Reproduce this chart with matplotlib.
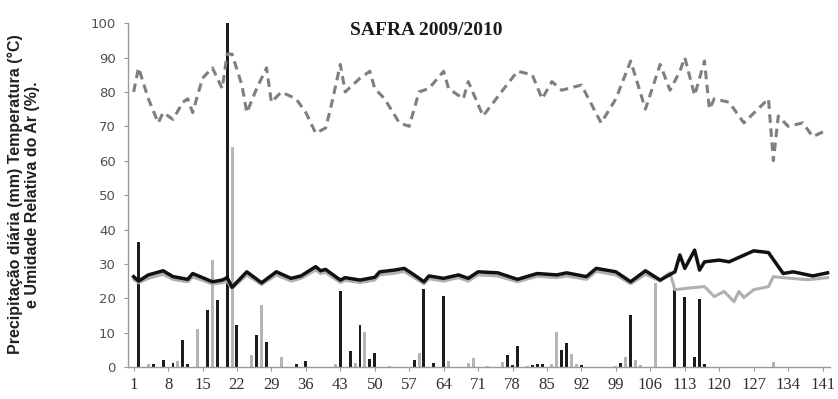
import numpy as np
import matplotlib
matplotlib.use("Agg")
import matplotlib.pyplot as plt

# relative humidity (%) - dashed grey line
ur_dias = [1, 2, 4, 6, 7, 9, 11, 12, 13, 15, 17, 18, 19, 20, 21, 23, 24, 26, 28, 29,
           31, 34, 36, 38, 40, 41, 43, 44, 47, 49, 50, 52, 55, 57, 59, 61, 64, 65, 68, 69,
           72, 76, 79, 82, 84, 86, 88, 92, 96, 99, 102, 105, 108, 110, 112, 113, 115, 117,
           118, 119, 122, 125, 130, 131, 132, 134, 137, 139, 142]
ur_vals = [80, 87, 78, 71, 74, 72, 77, 78, 74, 84, 87, 84, 81, 91, 91, 82, 74, 81, 87, 77,
           80, 78, 74, 68, 69.5, 75, 88, 80, 84, 86, 81, 78, 71, 70, 80, 81, 86, 81, 78, 83,
           73, 80.5, 86, 85, 78, 83, 80.5, 82, 71, 78, 89, 75, 88, 80.5, 86, 90, 79, 89,
           75, 78, 77, 71, 78, 60, 73, 70, 71, 67, 69]

# temperature, black line
tb_dias = [1, 2, 4, 7, 9, 12, 13, 17, 19, 20, 21, 24, 27, 30, 33, 35, 38, 39, 40, 43,
           44, 47, 50, 51, 54, 56, 58, 60, 61, 64, 67, 69, 71, 75, 79, 83, 87, 89, 93, 95,
           99, 102, 105, 108, 111, 112, 113, 115, 116, 117, 120, 122, 127, 130, 133, 135,
           139, 142]
tb_vals = [26.3, 25, 26.8, 28, 26.3, 25.5, 27.2, 24.8, 25.3, 26, 23.2, 27.7, 24.5, 27.7,
           25.8, 26.5, 29.2, 28, 28.4, 25.3, 26, 25.3, 26.1, 27.7, 28.2, 28.7, 26.8, 24.8,
           26.5, 25.8, 26.8, 25.8, 27.7, 27.4, 25.5, 27.2, 26.8, 27.4, 26.3, 28.7, 27.7,
           24.8, 28, 25.3, 27.7, 32.6, 28.7, 34, 28.2, 30.6, 31.1, 30.6, 33.8, 33.3, 27.2,
           27.7, 26.5, 27.4]

# temperature, grey line
tc_dias = [1, 2, 4, 7, 9, 12, 13, 17, 19, 20, 21, 24, 27, 30, 33, 35, 38, 39, 40, 43,
           44, 47, 50, 51, 54, 56, 58, 60, 61, 64, 67, 69, 71, 75, 79, 83, 87, 89, 93, 95,
           99, 102, 105, 108, 109, 110, 111, 114, 117, 119, 121, 123, 124, 125, 127, 130,
           131, 133, 138, 142]
tc_vals = [25.5, 24.5, 25.8, 27, 25.5, 24.8, 26.2, 24.2, 24.5, 25, 22.8, 26.8, 24, 26.8,
           25, 25.8, 28.2, 27.2, 27.5, 24.6, 25.2, 24.6, 25.3, 26.8, 27.3, 27.8, 26, 24.2,
           25.7, 25, 26, 25, 26.8, 26.5, 24.8, 26.4, 26, 26.5, 25.5, 27.8, 26.8, 24.2, 27,
           25, 26.5, 27.4, 22.5, 23, 23.4, 20.5, 22, 19, 22, 20.2, 22.5, 23.4, 26.3, 26,
           25.4, 26]

# daily rainfall (mm), black bars
pb_dias = [2, 5, 7, 9, 11, 12, 16, 18, 20, 22, 26, 28, 34, 36, 43, 45, 47, 49, 50, 58,
           60, 62, 64, 77, 78, 79, 82, 83, 84, 88, 89, 92, 100, 102, 111, 113, 115, 116, 117]
pb_vals = [36.5, 1, 2, 1.2, 7.8, 0.8, 16.6, 19.5, 100, 12.2, 9.3, 7.3, 0.8, 1.9, 22.2, 4.8,
           12.2, 2.3, 4, 2, 22.6, 1.2, 20.6, 3.5, 0.6, 6.1, 0.5, 1, 1, 4.9, 7.1, 0.6, 1.3,
           15.1, 22.5, 20.3, 2.8, 19.8, 1]

# daily rainfall (mm), grey bars
pc_dias = [4, 10, 14, 17, 21, 25, 27, 31, 42, 46, 48, 53, 59, 65, 69, 70, 73, 76, 81, 86,
           87, 90, 91, 99, 101, 103, 104, 107, 131]
pc_vals = [0.8, 1.8, 11, 31, 64, 3.6, 18, 3, 1, 1.2, 10.3, 0.3, 4, 1.7, 1.3, 2.7, 0.3,
           1.5, 0.3, 1, 10.3, 3.8, 1, 0.3, 3, 2, 0.5, 24.5, 1.5]

xticks = list(range(1, 142, 7))

fig = plt.figure(figsize=(8.38, 3.99), dpi=100)
ax = fig.add_axes([0.153, 0.080, 0.838, 0.862])

ax.bar(pc_dias, pc_vals, width=0.6, color="#b5b5b5", zorder=2)
ax.bar(pb_dias, pb_vals, width=0.6, color="#1c1c1c", zorder=2)

ax.plot(tc_dias, tc_vals, color="#b0b0b0", lw=2.2, zorder=3, solid_joinstyle="round")
ax.plot(tb_dias, tb_vals, color="#111111", lw=2.5, zorder=4, solid_joinstyle="round")
ax.plot(ur_dias, ur_vals, color="#7f7f7f", lw=2.2, dashes=(2.8, 1.8), zorder=5)

ax.set_xlim(-0.1, 142.6)
ax.set_ylim(0, 100)
ax.set_yticks(range(0, 101, 10))
ax.set_xticks(xticks)

for s in ["top", "right"]:
    ax.spines[s].set_visible(False)
for s in ["left", "bottom"]:
    ax.spines[s].set_color("#9a9a9a")
    ax.spines[s].set_linewidth(1.0)

ax.tick_params(axis="y", colors="#9a9a9a", length=3, pad=6, labelsize=9.5,
               labelcolor="#505050")
ax.tick_params(axis="x", colors="#9a9a9a", length=3, pad=4, labelsize=12,
               labelcolor="#303030")
for lab in ax.get_xticklabels():
    lab.set_family("Liberation Serif")

ax.set_title("SAFRA 2009/2010", family="Liberation Serif", fontweight="bold",
             fontsize=14, color="#1a1a1a", x=0.425, y=0.94)

fig.text(15 / 838, 0.5125, "Precipitação diária (mm) Temperatura (°C)", rotation=90,
         ha="center", va="center", fontsize=11.5, fontweight="bold",
         family="Liberation Sans", color="#202020")
fig.text(33 / 838, 0.5125, "e Umidade Relativa do Ar (%).", rotation=90,
         ha="center", va="center", fontsize=11.5, fontweight="bold",
         family="Liberation Sans", color="#202020")

fig.savefig("out.png", dpi=100)
